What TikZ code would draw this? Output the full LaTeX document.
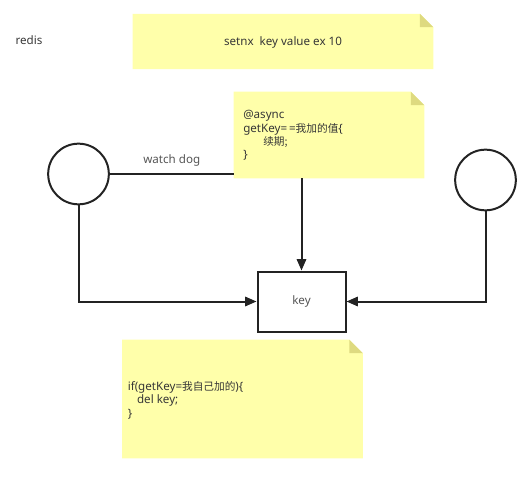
\documentclass[tikz,border=0pt]{standalone}
\usepackage{fontspec}
\setmainfont{Noto Sans}
\newfontfamily\cjk[Scale=0.92]{Noto Sans CJK SC}
\usetikzlibrary{arrows.meta}
\definecolor{notefill}{RGB}{255,255,170}
\definecolor{notefold}{RGB}{222,218,128}
\definecolor{txt}{RGB}{55,55,55}
\definecolor{ln}{RGB}{35,35,35}
\tikzset{
  px/.style={x=0.75pt,y=-0.75pt},
  lbl/.style={font=\fontsize{8.7}{10.1}\selectfont,text=txt,inner sep=0pt},
  circ/.style={circle,draw=ln,line width=1.5pt,minimum size=45.5pt,inner sep=0pt},
  keybox/.style={rectangle,draw=ln,line width=1.5pt,minimum width=66pt,minimum height=45pt,inner sep=0pt},
  conn/.style={draw=ln,line width=1.5pt},
  arr/.style={conn,-{Triangle[length=8.5pt,width=7pt]}},
  noteframe/.style={rectangle,draw=none,inner sep=0pt},
}
\newcommand{\mynote}[1]{%
  \fill[notefill] (#1.south west) -- (#1.north west) -- ([xshift=-10pt]#1.north east) -- ([yshift=-10pt]#1.north east) -- (#1.south east) -- cycle;
  \fill[notefold] ([xshift=-10pt]#1.north east) -- ([yshift=-10pt]#1.north east) -- ([xshift=-10pt,yshift=-10pt]#1.north east) -- cycle;
}
\begin{document}
\begin{tikzpicture}[px]
\useasboundingbox (0,0) rectangle (529,482);
% notes
\node[noteframe,minimum width=225pt,minimum height=41pt] (n1) at (283,41.5) {};
\mynote{n1}
\node[noteframe,minimum width=142.5pt,minimum height=64.5pt] (n2) at (329,135) {};
\mynote{n2}
\node[noteframe,minimum width=180pt,minimum height=88.5pt] (n3) at (242.5,399) {};
\mynote{n3}
% texts
\node[lbl] (redis) at (29,40) {redis};
\node[lbl] (t1) at (283,42) {setnx\ \ key value ex 10};
\node[lbl,anchor=north west,align=left] (t2) at (243,110) {@async\\getKey=\,={\cjk 我加的值}\{\\\hspace*{15pt}{\cjk 续期;}\\\}};
\node[lbl,anchor=north west,align=left] (t3) at (127.5,381) {if(getKey={\cjk 我自己加的})\{\\\hspace*{7pt}del key;\\\}};
% shapes
\node[circ] (c1) at (78.5,174) {};
\node[circ] (c2) at (485.5,180) {};
\node[keybox] (key) at (301.5,301.5) {};
\node[lbl,text=txt!85] at (key.center) {key};
% connectors
\draw[conn] (c1.east) -- node[lbl,above=5pt,text=txt!85] (wd) {watch dog} (n2.west |- c1.east);
\draw[arr] (n2.south -| key.north) -- (key.north);
\draw[arr] (c1.south) |- (key.west);
\draw[arr] (c2.south) |- (key.east);
\end{tikzpicture}
\end{document}
